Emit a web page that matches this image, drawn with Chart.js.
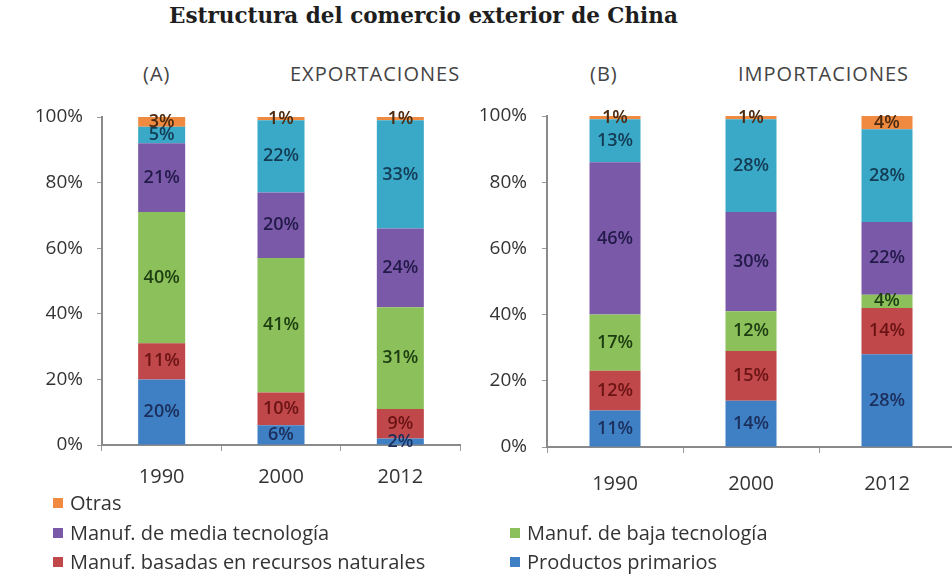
<!DOCTYPE html>
<html>
<head>
<meta charset="utf-8">
<script src="https://cdn.jsdelivr.net/npm/chart.js@4.4.0/dist/chart.umd.min.js"></script>
<style>
    body { margin: 0; width: 952px; height: 578px; overflow: hidden; background: #fff; position: relative; font-family: 'Open Sans', sans-serif; color: #3a3a3a; }
    #title { position: absolute; left: 169px; top: 3px; font: bold 21.5px 'DejaVu Serif', serif; color: #1e1e1e; white-space: nowrap; }
    .sub { position: absolute; top: 60px; font-size: 20px; letter-spacing: 1px; color: #444; white-space: nowrap; }
    canvas { position: absolute; top: 0; }
    #legend { position: absolute; left: 0; top: 0; }
    .item { position: absolute; font-size: 20px; color: #333; white-space: nowrap; line-height: 22px; }
    .item span { display: inline-block; width: 10px; height: 10px; margin-right: 7px; vertical-align: 2px; }
</style>
</head>
<body>
<div id="title">Estructura del comercio exterior de China</div>
<div class="sub" style="left:143px">(A)</div>
<div class="sub" style="left:290px">EXPORTACIONES</div>
<div class="sub" style="left:590px">(B)</div>
<div class="sub" style="left:738px">IMPORTACIONES</div>
<canvas id="exp-chart" width="480" height="578" style="left:0"></canvas>
<canvas id="imp-chart" width="500" height="578" style="left:460px"></canvas>
<div id="legend"></div>
<script>
// Years on the x axis
const years = ['1990', '2000', '2012'];

// Series names (bottom to top in the stack)
const seriesNames = [
    'Productos primarios',
    'Manuf. basadas  en recursos naturales',
    'Manuf. de baja tecnología',
    'Manuf. de media tecnología',
    'Manuf. de alta tecnología',
    'Otras'
];

// Exports shares (%) per series, for 1990 / 2000 / 2012
const expPrimarios = [20, 6, 2];
const expRecursos = [11, 10, 9];
const expBaja = [40, 41, 31];
const expMedia = [21, 20, 24];
const expAlta = [5, 22, 33];
const expOtras = [3, 1, 1];

// Imports shares (%) per series, for 1990 / 2000 / 2012
const impPrimarios = [11, 14, 28];
const impRecursos = [12, 15, 14];
const impBaja = [17, 12, 4];
const impMedia = [46, 30, 22];
const impAlta = [13, 28, 28];
const impOtras = [1, 1, 4];

const yTicks = [0, 20, 40, 60, 80, 100];

const barColors = ['#3f7fc4', '#c0474a', '#8cc05a', '#7a5aa8', '#3aa9c8', '#f08a40'];
const labelColors = ['#1b2f5c', '#6b1414', '#1d3d12', '#231a4a', '#143c55', '#4a2a10'];

// Draw the percent value in the middle of every segment
const segmentLabels = {
    id: 'segmentLabels',
    afterDatasetsDraw(chart) {
        const ctx = chart.ctx;
        ctx.save();
        ctx.font = '600 18px "Open Sans"';
        ctx.textAlign = 'center';
        ctx.textBaseline = 'middle';
        chart.data.datasets.forEach((ds, i) => {
            chart.getDatasetMeta(i).data.forEach((bar, j) => {
                ctx.fillStyle = labelColors[i];
                ctx.fillText(ds.data[j] + '%', bar.x, (bar.y + bar.base) / 2);
            });
        });
        ctx.restore();
    }
};

function buildChart(id, series, opts) {
    const ctx = document.getElementById(id).getContext('2d');
    return new Chart(ctx, {
        type: 'bar',
        data: {
            labels: years,
            datasets: series.map((data, i) => ({
                label: seriesNames[i],
                data: data,
                backgroundColor: barColors[i],
                categoryPercentage: 1,
                barPercentage: opts.barPct
            }))
        },
        options: {
            responsive: false,
            animation: false,
            layout: { padding: opts.padding },
            plugins: { legend: { display: false }, tooltip: { enabled: false } },
            scales: {
                x: {
                    stacked: true,
                    grid: { drawOnChartArea: false, tickLength: 6, color: '#9a9a9a' },
                    border: { color: '#8a8a8a', width: 2 },
                    ticks: { font: { family: 'Open Sans', size: 20 }, color: '#333', padding: opts.xPad },
                    afterFit: s => { s.height = opts.xHeight; }
                },
                y: {
                    stacked: true,
                    min: 0,
                    max: 100,
                    afterBuildTicks: s => { s.ticks = yTicks.map(v => ({ value: v })); },
                    grid: { drawOnChartArea: false, tickLength: 5, color: '#9a9a9a' },
                    border: { color: '#8a8a8a', width: 2 },
                    ticks: {
                        font: { family: 'Open Sans', size: 19 },
                        color: '#333',
                        padding: opts.yPad,
                        callback: v => v + '%'
                    },
                    afterFit: s => { s.width = opts.yWidth; }
                }
            }
        },
        plugins: [segmentLabels]
    });
}

buildChart('exp-chart',
    [expPrimarios, expRecursos, expBaja, expMedia, expAlta, expOtras],
    { barPct: 0.394, padding: { left: 0, right: 20, top: 117, bottom: 93 }, yWidth: 102, xHeight: 40, yPad: 14, xPad: 14 });

buildChart('imp-chart',
    [impPrimarios, impRecursos, impBaja, impMedia, impAlta, impOtras],
    { barPct: 0.375, padding: { left: 0, right: 5, top: 116, bottom: 86 }, yWidth: 87, xHeight: 45, yPad: 15, xPad: 19 });

// Legend as in the source: five entries in two columns
const legendItems = [
    { idx: 5, x: 53, y: 492 },
    { idx: 3, x: 53, y: 522 },
    { idx: 2, x: 510, y: 522 },
    { idx: 1, x: 53, y: 551 },
    { idx: 0, x: 510, y: 551 }
];
const legend = document.getElementById('legend');
legendItems.forEach(it => {
    const div = document.createElement('div');
    div.className = 'item';
    div.style.left = it.x + 'px';
    div.style.top = it.y + 'px';
    div.innerHTML = '<span style="background:' + barColors[it.idx] + '"></span>' + seriesNames[it.idx];
    legend.appendChild(div);
});
</script>
</body>
</html>
